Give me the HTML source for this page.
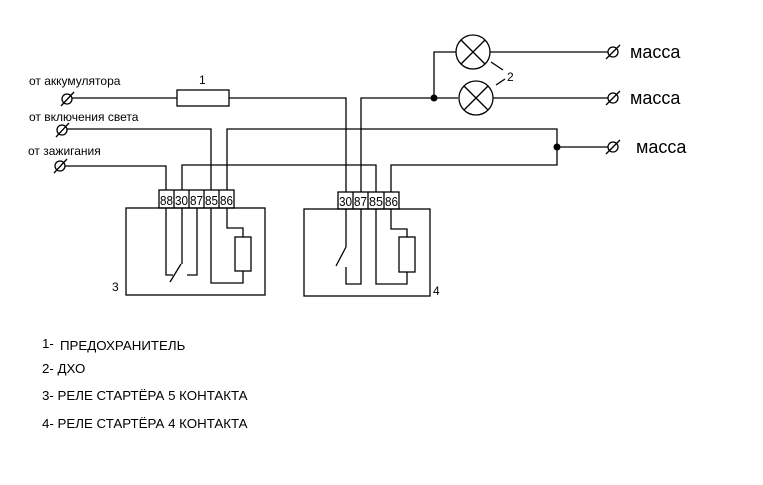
<!DOCTYPE html>
<html><head><meta charset="utf-8"><style>
html,body{margin:0;padding:0;background:#fff;}
svg{display:block;}
text{font-family:"Liberation Sans",sans-serif;fill:#000;}
</style></head><body>
<svg width="763" height="485" viewBox="0 0 763 485" xmlns="http://www.w3.org/2000/svg">
<g stroke="#000" stroke-width="1.3" fill="none">
<circle cx="67" cy="99" r="5"/><line x1="61" y1="106" x2="74" y2="92"/>
<circle cx="62" cy="130" r="5"/><line x1="56" y1="137" x2="69" y2="123"/>
<circle cx="60" cy="166" r="5"/><line x1="54" y1="173" x2="67" y2="159"/>
<polyline points="72,98 177,98"/>
<rect x="177" y="90" width="52" height="16"/>
<polyline points="229,98 346,98 346,192"/>
<polyline points="361,192 361,98 434,98 458,98"/>
<polyline points="434,98 434,52 456,52"/>
<polyline points="67,129 211,129 211,190"/>
<polyline points="227,190 227,129 557,129 557,165 391,165 391,192"/>
<polyline points="65,166 166,166 166,190"/>
<polyline points="182,190 182,165 376,165 376,192"/>
<line x1="557" y1="147" x2="608" y2="147"/>
<line x1="490" y1="52" x2="608" y2="52"/>
<line x1="493" y1="98" x2="608" y2="98"/>
<circle cx="613" cy="52" r="5"/><line x1="606" y1="59" x2="620" y2="45"/>
<circle cx="613" cy="98" r="5"/><line x1="606" y1="105" x2="620" y2="91"/>
<circle cx="613" cy="147" r="5"/><line x1="606" y1="154" x2="620" y2="140"/>
<circle cx="473" cy="52" r="17"/>
<line x1="461" y1="40" x2="485" y2="64"/><line x1="485" y1="40" x2="461" y2="64"/>
<circle cx="476" cy="98" r="17"/>
<line x1="464" y1="86" x2="488" y2="110"/><line x1="488" y1="86" x2="464" y2="110"/>
<line x1="491" y1="62" x2="503" y2="70"/>
<line x1="496" y1="85" x2="505" y2="79"/>
<rect x="159" y="190" width="75" height="18"/>
<line x1="174" y1="190" x2="174" y2="208"/><line x1="189" y1="190" x2="189" y2="208"/>
<line x1="204" y1="190" x2="204" y2="208"/><line x1="219" y1="190" x2="219" y2="208"/>
<rect x="126" y="208" width="139" height="87"/>
<polyline points="166,208 166,275 173,275"/>
<line x1="170" y1="282" x2="181" y2="264"/>
<line x1="182" y1="208" x2="182" y2="264"/>
<polyline points="197,208 197,275 187,275"/>
<polyline points="211,208 211,283 243,283 243,271"/>
<rect x="235" y="237" width="16" height="34"/>
<polyline points="227,208 227,228 243,228 243,237"/>
<rect x="338" y="192" width="61" height="17"/>
<line x1="353" y1="192" x2="353" y2="209"/><line x1="368" y1="192" x2="368" y2="209"/>
<line x1="384" y1="192" x2="384" y2="209"/>
<rect x="304" y="209" width="126" height="87"/>
<line x1="346" y1="209" x2="346" y2="247"/>
<line x1="346" y1="247" x2="336" y2="266"/>
<polyline points="346,267 346,284 361,284 361,209"/>
<polyline points="376,209 376,284 407,284 407,272"/>
<rect x="399" y="237" width="16" height="35"/>
<polyline points="391,209 391,229 407,229 407,237"/>
</g>
<circle cx="434" cy="98" r="3.5" fill="#000"/>
<circle cx="557" cy="147" r="3.5" fill="#000"/>
<g font-size="12.5">
<text x="160" y="205" textLength="13" lengthAdjust="spacingAndGlyphs">88</text>
<text x="175" y="205" textLength="13" lengthAdjust="spacingAndGlyphs">30</text>
<text x="190" y="205" textLength="13" lengthAdjust="spacingAndGlyphs">87</text>
<text x="205" y="205" textLength="13" lengthAdjust="spacingAndGlyphs">85</text>
<text x="220" y="205" textLength="13" lengthAdjust="spacingAndGlyphs">86</text>
<text x="339" y="206" textLength="13" lengthAdjust="spacingAndGlyphs">30</text>
<text x="354" y="206" textLength="13" lengthAdjust="spacingAndGlyphs">87</text>
<text x="369" y="206" textLength="14" lengthAdjust="spacingAndGlyphs">85</text>
<text x="385" y="206" textLength="13" lengthAdjust="spacingAndGlyphs">86</text>
</g>
<g font-size="12">
<text x="29" y="85">от аккумулятора</text>
<text x="29" y="121">от включения света</text>
<text x="28" y="155">от зажигания</text>
<text x="199" y="84">1</text>
<text x="507" y="81">2</text>
<text x="112" y="291">3</text>
<text x="433" y="295">4</text>
</g>
<g font-size="13.3">
<text x="42" y="348">1-</text>
<text x="60" y="350">ПРЕДОХРАНИТЕЛЬ</text>
<text x="42" y="373">2- ДХО</text>
<text x="42" y="400">3- РЕЛЕ СТАРТЁРА 5 КОНТАКТА</text>
<text x="42" y="428">4- РЕЛЕ СТАРТЁРА 4 КОНТАКТА</text>
</g>
<g font-size="18">
<text x="630" y="58">масса</text>
<text x="630" y="104">масса</text>
<text x="636" y="153">масса</text>
</g>
</svg>
</body></html>
